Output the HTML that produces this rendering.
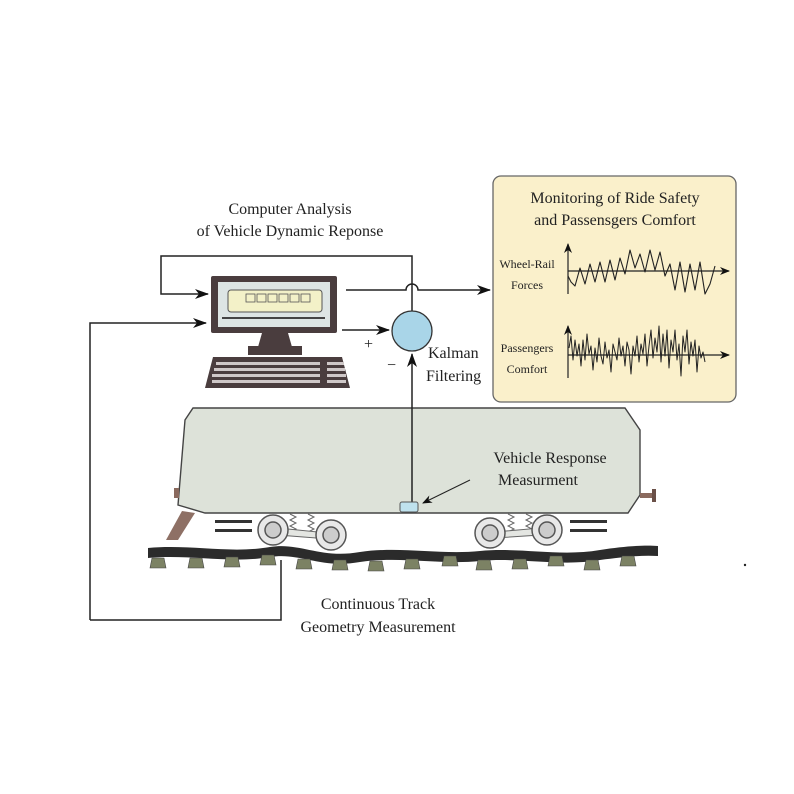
<!DOCTYPE html>
<html><head><meta charset="utf-8"><style>
html,body{margin:0;padding:0;background:#fff;}
svg{display:block;}
text{font-family:"Liberation Serif",serif;fill:#222;}
</style></head><body>
<svg width="794" height="794" viewBox="0 0 794 794" xmlns="http://www.w3.org/2000/svg">
<defs>
<marker id="ah" markerWidth="14" markerHeight="10" refX="13" refY="5" orient="auto" markerUnits="userSpaceOnUse">
<path d="M0,0 L14,5 L0,10 L4,5 Z" fill="#111"/></marker>
<marker id="as" markerWidth="10" markerHeight="8" refX="9" refY="4" orient="auto" markerUnits="userSpaceOnUse">
<path d="M0,0 L10,4 L0,8 L3,4 Z" fill="#111"/></marker>
</defs>
<text x="290" y="214" font-size="16" text-anchor="middle">Computer Analysis</text>
<text x="290" y="236" font-size="16" text-anchor="middle">of Vehicle Dynamic Reponse</text>

<g stroke="#222" stroke-width="1.5" fill="none">
<path d="M412,312 L412,256 L161,256 L161,294 L208,294" marker-end="url(#ah)"/>
<path d="M346,290 L406,290 A6,6 0 0 1 418,290 L490,290" marker-end="url(#ah)"/>
<path d="M90,620 L90,323 L206,323" marker-end="url(#ah)"/>
<path d="M90,620 L281,620 L281,560"/>
<path d="M342,330 L389,330" marker-end="url(#ah)"/>
</g>
<text x="364" y="349" font-size="16">+</text>
<text x="387" y="370" font-size="16">−</text>
<circle cx="412" cy="331" r="20" fill="#a9d5e8" stroke="#333" stroke-width="1.3"/>
<text x="428" y="358" font-size="16">Kalman</text>
<text x="426" y="381" font-size="16">Filtering</text>

<rect x="211" y="276" width="126" height="57" fill="#4a3d3e" rx="2"/>
<rect x="218" y="282" width="112" height="45" fill="#dde5e4"/>
<rect x="228" y="290" width="94" height="22" fill="#f3f1c8" stroke="#555" stroke-width="1" rx="3"/>
<g fill="none" stroke="#555" stroke-width=".8">
<rect x="246" y="294" width="9" height="8"/><rect x="257" y="294" width="9" height="8"/><rect x="268" y="294" width="9" height="8"/><rect x="279" y="294" width="9" height="8"/><rect x="290" y="294" width="9" height="8"/><rect x="301" y="294" width="9" height="8"/>
</g>
<line x1="222" y1="318" x2="325" y2="318" stroke="#444" stroke-width="2"/>
<polygon points="262,333 288,333 292,347 258,347" fill="#4a3d3e"/>
<rect x="248" y="346" width="54" height="9" fill="#4a3d3e"/>
<polygon points="213,357 342,357 350,388 205,388" fill="#4a3d3e"/>
<g fill="#cfc8c8">
<rect x="216" y="362" width="104" height="3"/><rect x="214" y="368" width="106" height="3"/><rect x="212" y="374" width="108" height="3"/><rect x="212" y="380" width="108" height="3"/>
<rect x="327" y="362" width="17" height="3"/><rect x="327" y="368" width="18" height="3"/><rect x="327" y="374" width="19" height="3"/><rect x="327" y="380" width="19" height="3"/>
</g>

<rect x="493" y="176" width="243" height="226" rx="8" fill="#faf0cb" stroke="#666" stroke-width="1.3"/>
<text x="615" y="203" font-size="16" text-anchor="middle">Monitoring of Ride Safety</text>
<text x="615" y="225" font-size="16" text-anchor="middle">and Passensgers Comfort</text>
<text x="527" y="268" font-size="12" text-anchor="middle">Wheel-Rail</text>
<text x="527" y="289" font-size="12" text-anchor="middle">Forces</text>
<text x="527" y="352" font-size="12" text-anchor="middle">Passengers</text>
<text x="527" y="373" font-size="12" text-anchor="middle">Comfort</text>
<g stroke="#222" stroke-width="1.2" fill="none" stroke-linejoin="round">
<line x1="568" y1="294" x2="568" y2="244" marker-end="url(#as)"/>
<line x1="568" y1="271" x2="729" y2="271" marker-end="url(#as)"/>
<line x1="568" y1="378" x2="568" y2="326" marker-end="url(#as)"/>
<line x1="568" y1="355" x2="729" y2="355" marker-end="url(#as)"/>
<polyline stroke-width="1.1" points="568,276 571,282 575,286 580,268 585,284 590,264 595,282 600,262 605,282 610,260 615,280 620,258 625,274 630,250 635,268 640,254 645,272 650,250 655,270 660,252 665,276 670,264 675,290 680,262 685,292 690,264 695,290 700,262 705,294 710,284 715,266"/>
<polyline stroke-width="1" points="569,348 571,336 573,360 575,340 577,356 579,344 581,366 583,340 585,360 587,334 589,354 591,346 593,370 595,348 597,362 599,338 601,356 603,364 605,342 607,358 609,350 611,372 613,344 615,352 617,360 619,338 621,356 623,346 625,366 627,342 629,350 631,374 633,346 635,356 637,336 639,362 641,344 643,354 645,334 647,366 649,346 651,330 653,358 655,338 657,352 659,326 661,362 663,334 665,356 667,330 669,368 671,340 673,352 675,330 677,360 679,344 681,376 683,336 685,352 687,330 689,364 691,342 693,356 695,340 697,372 699,346 701,358 703,352 705,362"/>
</g>

<polygon points="193,408 625,408 640,430 640,495 628,513 205,513 178,505 185,420" fill="#dde2d9" stroke="#444" stroke-width="1.4"/>
<rect x="174" y="488" width="5" height="10" fill="#8a6a5e"/>
<rect x="640" y="493" width="14" height="5" fill="#8a6a5e"/><rect x="652" y="489" width="4" height="13" fill="#6a5048"/>
<polygon points="182,511 195,513 178,540 166,540" fill="#8e7065"/>
<g stroke="#222" stroke-width="1.5" fill="none">
<path d="M412,502 L412,354" marker-end="url(#ah)"/>
<path d="M470,480 L423,503" stroke-width="1" marker-end="url(#as)"/>
</g>
<rect x="400" y="502" width="18" height="10" rx="2" fill="#bfe2ee" stroke="#555" stroke-width="1"/>
<text x="550" y="463" font-size="16" text-anchor="middle">Vehicle Response</text>
<text x="538" y="485" font-size="16" text-anchor="middle">Measurment</text>

<g fill="#333"><rect x="215" y="520" width="37" height="3"/><rect x="215" y="529" width="37" height="3"/><rect x="570" y="520" width="37" height="3"/><rect x="570" y="529" width="37" height="3"/></g>
<g stroke="#666" stroke-width="1" fill="none">
<path d="M290,514 l6,3 -6,3 6,3 -6,3 6,3 -6,3"/><path d="M308,514 l6,3 -6,3 6,3 -6,3 6,3 -6,3"/>
<path d="M508,514 l6,3 -6,3 6,3 -6,3 6,3 -6,3"/><path d="M526,514 l6,3 -6,3 6,3 -6,3 6,3 -6,3"/>
</g>
<polygon points="278,528 318,532 316,538 278,535" fill="#e4e6e2" stroke="#666"/>
<polygon points="495,532 540,528 540,535 495,538" fill="#e4e6e2" stroke="#666"/>
<g stroke="#555" stroke-width="1.5">
<circle cx="273" cy="530" r="15" fill="#e8e8e8"/><circle cx="273" cy="530" r="8" fill="#ccc"/>
<circle cx="331" cy="535" r="15" fill="#e8e8e8"/><circle cx="331" cy="535" r="8" fill="#ccc"/>
<circle cx="490" cy="533" r="15" fill="#e8e8e8"/><circle cx="490" cy="533" r="8" fill="#ccc"/>
<circle cx="547" cy="530" r="15" fill="#e8e8e8"/><circle cx="547" cy="530" r="8" fill="#ccc"/>
</g>

<path d="M148,548 C190,544 230,554 270,547 C300,542 320,559 360,552 C400,546 440,555 480,551 C520,547 560,557 600,550 C625,546 645,545 658,546 L658,556 C640,555 625,557 600,560 C560,567 520,557 480,561 C440,565 400,556 360,562 C320,569 300,552 270,557 C230,564 190,554 148,558 Z" fill="#2b2b2b"/>
<g fill="#7c8264" stroke="#444" stroke-width=".6">
<polygon points="152,558 164,558 166,568 150,568"/><polygon points="190,558 202,558 204,568 188,568"/><polygon points="226,557 238,557 240,567 224,567"/><polygon points="262,555 274,555 276,565 260,565"/><polygon points="298,559 310,559 312,569 296,569"/><polygon points="334,560 346,560 348,570 332,570"/><polygon points="370,561 382,561 384,571 368,571"/><polygon points="406,559 418,559 420,569 404,569"/><polygon points="444,556 456,556 458,566 442,566"/><polygon points="478,560 490,560 492,570 476,570"/><polygon points="514,559 526,559 528,569 512,569"/><polygon points="550,556 562,556 564,566 548,566"/><polygon points="586,560 598,560 600,570 584,570"/><polygon points="622,556 634,556 636,566 620,566"/>
</g>
<text x="378" y="609" font-size="16" text-anchor="middle">Continuous Track</text>
<text x="378" y="632" font-size="16" text-anchor="middle">Geometry Measurement</text>
<circle cx="745" cy="565" r="1.2" fill="#222"/>
</svg>
</body></html>
